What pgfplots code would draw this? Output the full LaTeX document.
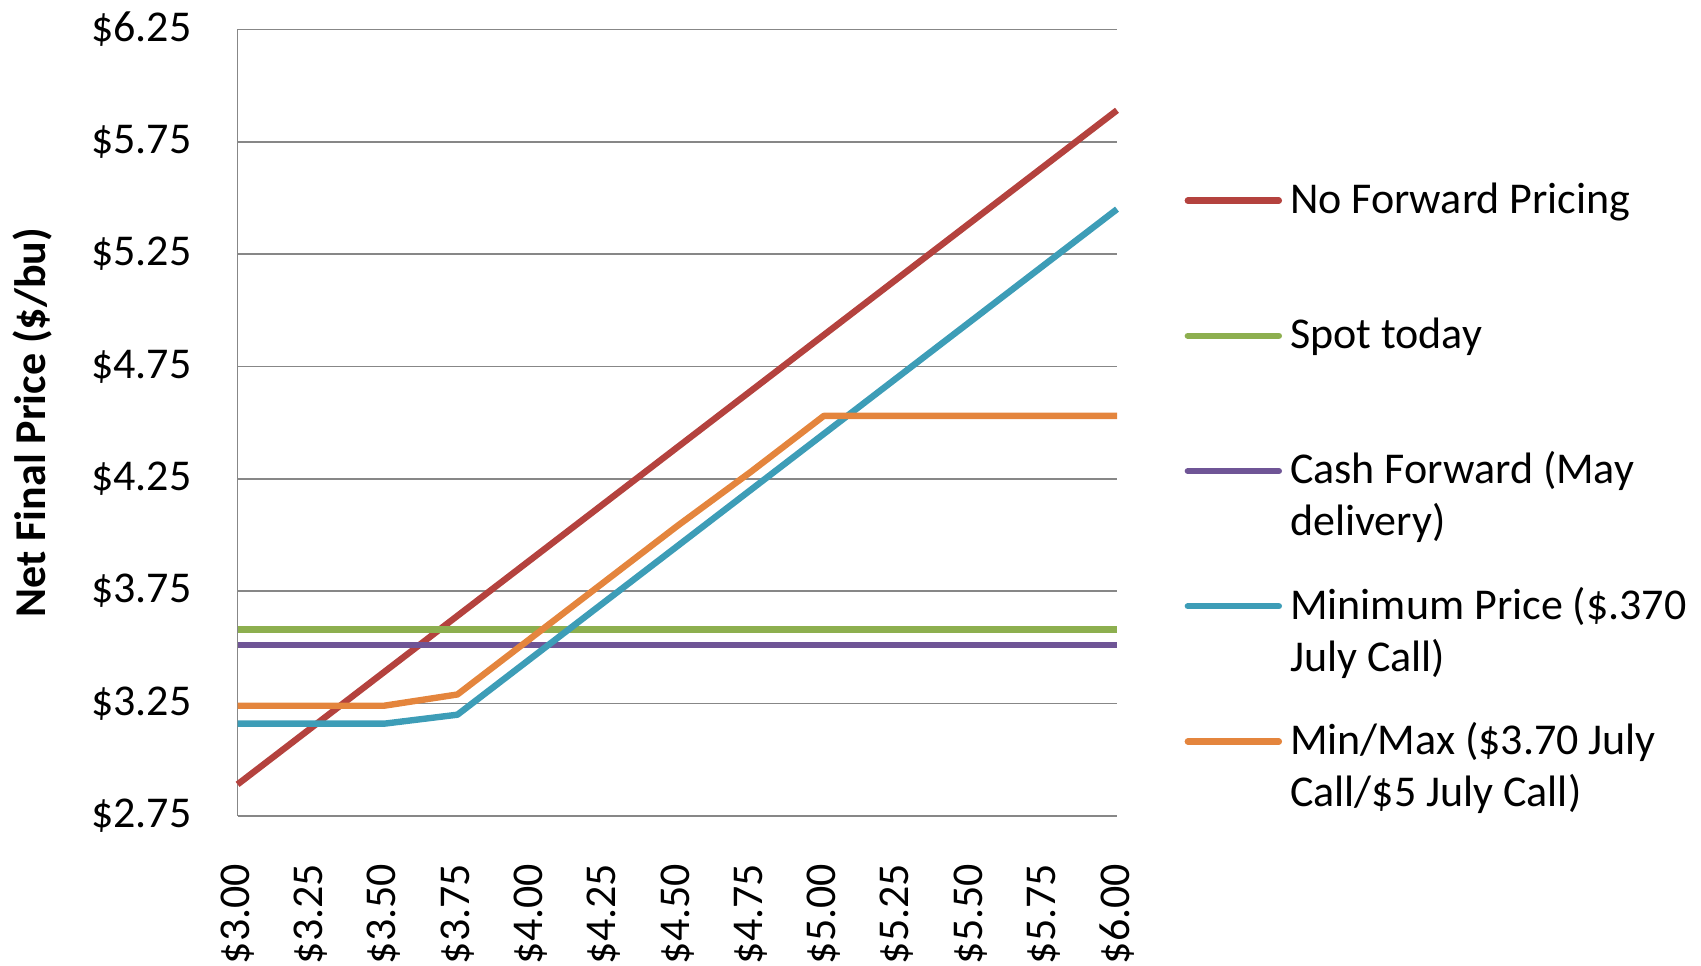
\documentclass[border=0pt]{standalone}
\usepackage{fontspec}
\setmainfont{Carlito}
\usepackage{pgfplots}
\pgfplotsset{compat=1.18}
\definecolor{cRed}{HTML}{B4423E}
\definecolor{cGreen}{HTML}{8DAF4F}
\definecolor{cPurple}{HTML}{6F5596}
\definecolor{cCyan}{HTML}{3D9DB7}
\definecolor{cOrange}{HTML}{E4853D}
\definecolor{cGrid}{HTML}{878787}
\newcommand{\tf}{\fontsize{11}{13}\selectfont}
\newcommand{\two}[2]{\begin{tabular}[t]{@{}l@{}}#1\\#2\end{tabular}}
\begin{document}
\begin{tikzpicture}
\begin{axis}[
  scale only axis, width=219.85pt, height=196.6pt,
  xmin=0, xmax=12, ymin=2.75, ymax=6.25,
  xtick={0,1,2,3,4,5,6,7,8,9,10,11,12},
  xticklabels={\$3.00,\$3.25,\$3.50,\$3.75,\$4.00,\$4.25,\$4.50,\$4.75,\$5.00,\$5.25,\$5.50,\$5.75,\$6.00},
  ytick={2.75,3.25,3.75,4.25,4.75,5.25,5.75,6.25},
  yticklabels={\$2.75,\$3.25,\$3.75,\$4.25,\$4.75,\$5.25,\$5.75,\$6.25},
  axis lines*=left,
  axis line style={draw=cGrid, line width=0.4pt},
  major tick length=0pt,
  ymajorgrids, grid style={draw=cGrid, line width=0.4pt},
  tick label style={font=\tf},
  xticklabel style={rotate=90, anchor=east},
  xticklabel shift=8.5pt, yticklabel shift=8pt,
  ylabel={Net Final Price (\$/bu)},
  ylabel style={at={(axis description cs:-0.2333,0.5)}, anchor=center, font=\tf\bfseries},
  every axis plot/.append style={line width=1.6pt, line join=round},
  legend image code/.code={\draw[#1, line cap=round] (0pt,3.2pt) -- (22.75pt,3.2pt);},
  legend style={draw=none, fill=none, inner sep=0pt, at={(axis description cs:1.076,0.816)}, anchor=north west,
    row sep={33.8pt,between origins}, column sep=0pt,
    cells={anchor=base west, inner xsep=0.4pt, inner ysep=0pt}, font=\tf},
  clip=false,
]
\addplot[cRed] coordinates {(0,2.89) (1,3.14) (2,3.39) (3,3.64) (4,3.89) (5,4.14) (6,4.39) (7,4.64) (8,4.89) (9,5.14) (10,5.39) (11,5.64) (12,5.89)};
\addlegendentry{No Forward Pricing}
\addplot[cGreen] coordinates {(0,3.58) (1,3.58) (2,3.58) (3,3.58) (4,3.58) (5,3.58) (6,3.58) (7,3.58) (8,3.58) (9,3.58) (10,3.58) (11,3.58) (12,3.58)};
\addlegendentry{Spot today}
\addplot[cPurple] coordinates {(0,3.51) (1,3.51) (2,3.51) (3,3.51) (4,3.51) (5,3.51) (6,3.51) (7,3.51) (8,3.51) (9,3.51) (10,3.51) (11,3.51) (12,3.51)};
\addlegendentry{\two{Cash Forward (May}{delivery)}}
\addplot[cCyan] coordinates {(0,3.16) (1,3.16) (2,3.16) (3,3.20) (4,3.45) (5,3.70) (6,3.95) (7,4.20) (8,4.45) (9,4.70) (10,4.95) (11,5.20) (12,5.45)};
\addlegendentry{\two{Minimum Price (\$.370}{July Call)}}
\addplot[cOrange] coordinates {(0,3.24) (1,3.24) (2,3.24) (3,3.29) (4,3.54) (5,3.79) (6,4.04) (7,4.28) (8,4.53) (9,4.53) (10,4.53) (11,4.53) (12,4.53)};
\addlegendentry{\two{Min/Max (\$3.70 July}{Call/\$5 July Call)}}
\end{axis}
\pgfresetboundingbox
\useasboundingbox ([xshift=-59.4pt,yshift=-37.3pt]current axis.south west) rectangle ([xshift=365.85pt,yshift=203.95pt]current axis.south west);
\end{tikzpicture}
\end{document}
